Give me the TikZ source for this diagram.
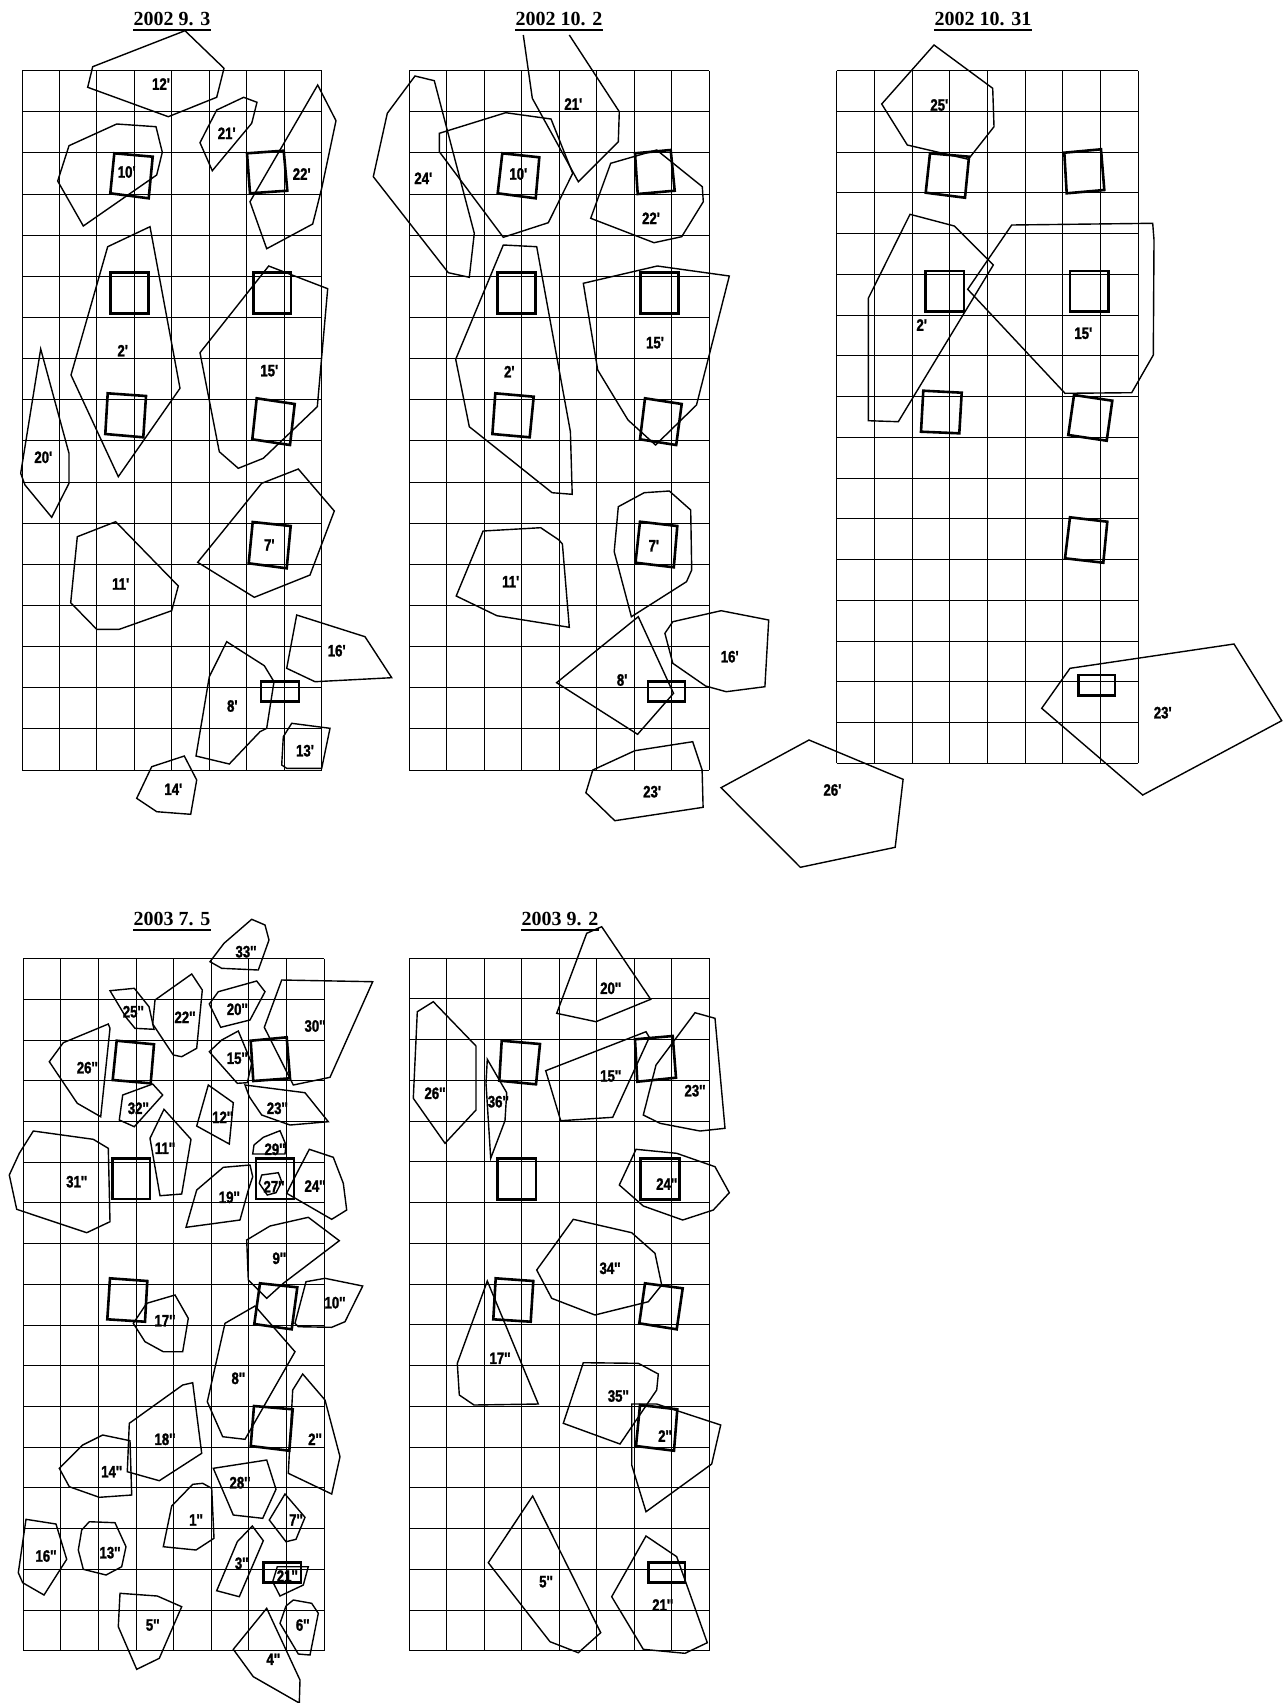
\documentclass[tikz,border=0pt]{standalone}
\usepackage{fontspec}
\setmainfont{Liberation Serif}
\newfontfamily\lblfont[FakeStretch=0.8, BoldFont={Liberation Sans Bold}, BoldFeatures={FakeBold=1.5}]{Liberation Sans}
\tikzset{
  gridline/.style={line width=1.0pt, black},
  pile/.style={line width=2.6pt, black, line join=miter},
  poly/.style={line width=1.4pt, black, line join=miter},
  lbl/.style={font=\lblfont\bfseries\fontsize{16.5}{16.5}\selectfont, inner sep=0pt},
  ttl/.style={font=\bfseries\fontsize{20}{20}\selectfont, inner sep=0pt, anchor=base},
  uline/.style={line width=1.6pt, black}
}
\newcommand\sitegrid[4]{%
  \foreach \i in {0,...,8} \draw[gridline] ({#1+\i*#3},{#2}) -- ({#1+\i*#3},{#2+17*#4});
  \foreach \j in {0,...,17} \draw[gridline] ({#1},{#2+\j*#4}) -- ({#1+8*#3},{#2+\j*#4});
}
\begin{document}
\begin{tikzpicture}[x=1pt,y=-1pt]
\useasboundingbox[fill=white] (0,0) rectangle (1284,1703);

% ---------------- titles ----------------
\node[ttl] (t1) at (172,25) {2002 9. 3};
\node[ttl] (t2) at (559,25) {2002 10. 2};
\node[ttl] (t3) at (983,25) {2002 10. 31};
\node[ttl] (t4) at (172,925) {2003 7. 5};
\node[ttl] (t5) at (560,925) {2003 9. 2};
\foreach \t in {t1,t2,t3,t4,t5}
  \draw[uline] ([yshift=-5pt]\t.base west) -- ([yshift=-5pt]\t.base east);

% ---------------- grids ----------------
\sitegrid{22}{70.7}{37.46}{41.14}
\sitegrid{409}{70.7}{37.5}{41.14}
\sitegrid{836.7}{70.7}{37.7}{40.74}
\sitegrid{23.3}{958.7}{37.59}{40.71}
\sitegrid{409}{958}{37.54}{40.75}

% ================= Panel 1 : 2002 9.3 =================
\draw[pile] (114.3,153.3)--(152.7,156.7)--(148.7,198.3)--(110.3,193.3)--cycle;
\draw[pile] (247,153.3)--(283.7,150.7)--(287.3,190.7)--(250,193.3)--cycle;
\draw[pile] (110.3,272.7) rectangle (148.7,313.3);
\draw[pile] (253.3,272.7) rectangle (291,313.3);
\draw[pile] (107.7,393.3)--(146,396)--(143.3,437.3)--(105.3,434)--cycle;
\draw[pile] (256.7,398.3)--(294.7,404)--(290,445)--(252.3,439.3)--cycle;
\draw[pile] (252.7,522)--(290.7,526)--(286.7,568.3)--(248.7,563.3)--cycle;
\draw[pile] (261,681.7) rectangle (299,701.7);

\draw[poly] (185,30.7)--(224,68.3)--(216.7,97.3)--(168.3,116.7)--(87.7,87.3)--(92.7,66.7)--cycle;
\draw[poly] (243.7,97.3)--(257,102.3)--(251.7,123.3)--(212.3,170.7)--(200,142.7)--(216.7,110)--cycle;
\draw[poly] (116.7,124)--(156,126.7)--(162.3,152.3)--(156.7,175)--(83.3,226)--(57.7,181)--(69,145.7)--cycle;
\draw[poly] (317.7,85)--(336,120.7)--(321.7,188.3)--(312.7,224)--(266.7,248.7)--(250,201.7)--cycle;
\draw[poly] (150,226.7)--(180,388.3)--(118.3,476.7)--(71,375)--(107.7,246.7)--cycle;
\draw[poly] (268.7,266)--(327.7,288.7)--(317.3,406.7)--(263.3,458.3)--(238.3,468.3)--(219.3,451.7)--(200,352.7)--cycle;
\draw[poly] (40.7,349)--(69,453.3)--(69,483.3)--(51.7,517.3)--(25,485)--(20.7,473.3)--cycle;
\draw[poly] (298.3,469)--(334.3,511)--(310,575)--(254.3,597.3)--(197.7,562.3)--(261.7,483.3)--cycle;
\draw[poly] (115.7,521.7)--(178.3,586)--(171.7,610.7)--(119.3,629.3)--(96.7,629.3)--(70.7,602.7)--(77.3,536.7)--cycle;
\draw[poly] (296.7,615)--(365,636.7)--(391.7,677.7)--(315,681.7)--(286.7,668.3)--cycle;
\draw[poly] (226.7,641.7)--(264.3,665.7)--(274,681.7)--(266.7,728.3)--(260,731.7)--(229.3,764)--(196,756)--(209.3,676.7)--cycle;
\draw[poly] (291.7,723.3)--(330,728.3)--(321.7,768.3)--(286.7,768.3)--(281.7,765)--(283.3,736.7)--cycle;
\draw[poly] (184.3,756)--(196.7,780)--(190.7,814.3)--(156.7,811.7)--(136.7,798.3)--(151.7,766.7)--cycle;

\node[lbl] (a12) at (161,84) {12'};
\node[lbl] (a21) at (226.7,133.3) {21'};
\node[lbl] (a10) at (126.7,172) {10'};
\node[lbl] (a22) at (301.7,174) {22'};
\node[lbl] (a2) at (122.7,350.7) {2'};
\node[lbl] (a15) at (269.3,370.7) {15'};
\node[lbl] (a20) at (43.3,457.3) {20'};
\node[lbl] (a7) at (269.3,545) {7'};
\node[lbl] (a11) at (120.7,584) {11'};
\node[lbl] (a16) at (336.7,650.7) {16'};
\node[lbl] (a8) at (232.3,706) {8'};
\node[lbl] (a13) at (305,750.7) {13'};
\node[lbl] (a14) at (173.3,789.3) {14'};

% ================= Panel 2 : 2002 10.2 =================
\draw[pile] (502.3,153.3)--(539.3,157.3)--(535.7,198.3)--(497.7,193.3)--cycle;
\draw[pile] (635,153.3)--(670.7,150)--(674.7,190.7)--(637.7,194)--cycle;
\draw[pile] (497.7,272.7) rectangle (535.3,313.3);
\draw[pile] (640.7,272.7) rectangle (678.7,313.3);
\draw[pile] (495.3,393.3)--(533.7,396.7)--(529.7,437.3)--(492.4,434)--cycle;
\draw[pile] (645,398.3)--(681.7,404)--(676.2,445)--(640,439.3)--cycle;
\draw[pile] (640,521.7)--(677.3,526)--(673.8,567.3)--(635.5,562.7)--cycle;
\draw[pile] (648,681.7) rectangle (684.8,701.7);

\draw[poly] (523.3,35)--(532.3,98.3)--(578.3,181.7)--(618.3,141.7)--(619.3,111.7)--(569.3,35);
\draw[poly] (415,76)--(434.3,80.7)--(474.3,233.3)--(469.3,277.3)--(448.3,272.7)--(373.3,176.7)--(387.3,113.3)--cycle;
\draw[poly] (505.7,112.7)--(551,119)--(572.7,173.3)--(548.3,222.7)--(503.3,237.3)--(439.3,151.7)--(439.3,133.3)--cycle;
\draw[poly] (656.7,150)--(702.3,186.7)--(703.3,201.7)--(681.7,236.7)--(654,242.7)--(590.7,218.3)--(610.7,163.3)--cycle;
\draw[poly] (503.3,245)--(536.7,246.7)--(570.4,431.7)--(572.2,494.3)--(552.1,492.7)--(469.3,426.7)--(455.7,359.3)--cycle;
\draw[poly] (657.3,266)--(729.3,276)--(696.5,405)--(655.5,445)--(628,420)--(597.7,370)--(583.3,283.3)--cycle;
\draw[poly] (644.2,492.7)--(669.3,491)--(690.7,510)--(691.7,570)--(686.5,581.7)--(631.4,616.7)--(614.2,551.7)--(618.3,506.7)--cycle;
\draw[poly] (483.1,531)--(540.7,527.7)--(559,540)--(562.4,544)--(569.3,627.3)--(496.9,615.7)--(456.2,596)--cycle;
\draw[poly] (638.3,616.7)--(673.5,693.3)--(637.6,734.3)--(556.6,682.7)--cycle;
\draw[poly] (672.8,621.7)--(721.1,610.7)--(768.7,620)--(764.9,686.7)--(726.2,691.7)--(705.6,686)--(672.8,663.3)--(664.9,633.3)--cycle;
\draw[poly] (634.8,750.7)--(692.7,741.7)--(702.1,770)--(703.1,807.3)--(614.8,820.7)--(585.9,792.7)--(592.8,770)--cycle;
\draw[poly] (809,740)--(903.1,779.3)--(895.2,847.3)--(800.3,867.3)--(721,787.7)--cycle;

\node[lbl] (b21) at (573.3,104) {21'};
\node[lbl] (b24) at (423.3,178.3) {24'};
\node[lbl] (b10) at (518.3,174) {10'};
\node[lbl] (b22) at (651,218.3) {22'};
\node[lbl] (b2) at (509.3,371.7) {2'};
\node[lbl] (b15) at (655,342.7) {15'};
\node[lbl] (b7) at (653.8,545.7) {7'};
\node[lbl] (b11) at (510.7,581.7) {11'};
\node[lbl] (b8) at (622.1,680) {8'};
\node[lbl] (b16) at (729.7,656.7) {16'};
\node[lbl] (b23) at (652.1,791.7) {23'};
\node[lbl] (b26) at (832.4,790) {26'};

% ================= Panel 3 : 2002 10.31 =================
\draw[pile] (930,153.3)--(969,156.7)--(965,197.7)--(925.7,192.7)--cycle;
\draw[pile] (1064.3,152.7)--(1101,149.3)--(1104.3,190)--(1066.7,193.3)--cycle;
\draw[pile] (925.7,271) rectangle (964,311.7);
\draw[pile] (1070,271) rectangle (1108.3,311.7);
\draw[pile] (923.3,390.7)--(961.7,392.7)--(959.3,433.3)--(921,431.7)--cycle;
\draw[pile] (1074,395)--(1112.3,400.7)--(1106.7,440.7)--(1068.3,435)--cycle;
\draw[pile] (1070,517.3)--(1107.3,521.7)--(1103.3,562.7)--(1065,558.3)--cycle;
\draw[pile] (1078.3,675) rectangle (1115,695.7);

\draw[poly] (934,45)--(992.7,88.3)--(994,126.7)--(968.3,159.3)--(907.3,145)--(881.7,104)--cycle;
\draw[poly] (910,214.3)--(954.3,226)--(993.3,265)--(898.3,421.7)--(868.3,420.7)--(868.3,298.3)--cycle;
\draw[poly] (1011.7,225)--(1152.7,223.3)--(1154,240)--(1153.3,355)--(1131.7,392.7)--(1065,393.3)--(967.7,289.3)--cycle;
\draw[poly] (1070,668.3)--(1234,644)--(1281.7,720.7)--(1142.7,795)--(1041.7,708.3)--cycle;

\node[lbl] (c25) at (939.3,105) {25'};
\node[lbl] (c2) at (921.7,325) {2'};
\node[lbl] (c15) at (1083.3,333.3) {15'};
\node[lbl] (c23) at (1162.7,712.7) {23'};

% ================= Panel 4 : 2003 7.5 =================
\draw[pile] (116.7,1040.7)--(154,1044.3)--(150.7,1083.3)--(112.7,1080)--cycle;
\draw[pile] (250.7,1040.7)--(286.7,1037.3)--(290,1078.3)--(253.3,1081)--cycle;
\draw[pile] (112.3,1158.7) rectangle (150,1199);
\draw[pile] (256,1158.7) rectangle (294,1199);
\draw[pile] (110,1278.3)--(147.3,1281)--(145,1321.7)--(107.3,1319.3)--cycle;
\draw[pile] (260,1283.3)--(297.3,1287.3)--(291.7,1329.3)--(254.3,1324)--cycle;
\draw[pile] (254,1406)--(292.7,1409.3)--(289.3,1450.7)--(250.7,1446)--cycle;
\draw[pile] (263.3,1562.7) rectangle (301,1582.7);

\draw[poly] (251.7,919.3)--(265,925)--(269,940)--(258.3,970)--(221.7,968.3)--(210,961.7)--(224,943.3)--cycle;
\draw[poly] (110,990.7)--(134.3,988.3)--(149,1006.7)--(154,1029.3)--(135,1028.3)--(126,1017.3)--cycle;
\draw[poly] (191.7,974)--(202.3,990)--(196.7,1048.3)--(181.7,1056.7)--(173.3,1055)--(152.7,1024)--(155,1000)--cycle;
\draw[poly] (256.7,981)--(265,991.7)--(250,1020)--(220.7,1027.3)--(209.3,1004)--(218.3,991.7)--cycle;
\draw[poly] (281.7,980)--(372.7,981.7)--(330,1077.3)--(293.3,1085)--(264.3,1027.3)--cycle;
\draw[poly] (108.3,1024)--(110,1028.3)--(100.7,1116.7)--(77.3,1103.3)--(49.3,1061.7)--(63.3,1042.7)--cycle;
\draw[poly] (238.3,1031)--(251.7,1063.3)--(247.3,1082.7)--(237.3,1083.3)--(209.3,1051.7)--(221.7,1040)--cycle;
\draw[poly] (152.7,1084)--(162.7,1095)--(134.3,1126.7)--(119.3,1120)--(122.7,1095)--cycle;
\draw[poly] (208.3,1085)--(233.3,1102.7)--(229.3,1144)--(196.7,1126)--cycle;
\draw[poly] (245,1085)--(305,1092.7)--(328.3,1121.7)--(290,1125)--(261.7,1115)--(249.3,1096.7)--cycle;
\draw[poly] (164,1109.3)--(191,1139.3)--(181.7,1194)--(160,1195.7)--(150,1138.3)--cycle;
\draw[poly] (254,1145)--(263.3,1137.3)--(280,1130.7)--(286,1145)--(285,1154)--(252.7,1154)--cycle;
\draw[poly] (33.3,1131)--(93.3,1139.3)--(108.3,1148.3)--(110,1221.7)--(86.7,1232.7)--(16.7,1209.3)--(9.3,1175)--(19.3,1153.3)--cycle;
\draw[poly] (223.3,1167.3)--(250,1165)--(252.7,1176.7)--(248.3,1190)--(240,1220)--(186,1227.3)--(196.7,1190)--cycle;
\draw[poly] (261.7,1175)--(278.3,1172.7)--(281.7,1181.7)--(276,1192.7)--(267.3,1195)--(259.3,1183.3)--cycle;
\draw[poly] (309.3,1149.3)--(333.3,1157.3)--(343.3,1183.3)--(346.7,1210)--(331.7,1219.3)--(286.7,1193.3)--(295,1176.7)--cycle;
\draw[poly] (308.3,1217.3)--(339.3,1240.7)--(283.3,1283.3)--(266.7,1298.3)--(248.3,1280)--(246.7,1240)--(270,1226)--cycle;
\draw[poly] (325,1278.3)--(362.7,1286)--(345,1321.7)--(331.7,1327.3)--(298.3,1326.7)--(295,1323.3)--(306,1281.7)--cycle;
\draw[poly] (175,1295)--(188.3,1318.3)--(182.7,1351.7)--(163.3,1351.7)--(145,1341.7)--(133.3,1323.3)--(146.7,1303.3)--cycle;
\draw[poly] (255,1306)--(295,1351.7)--(245,1439.3)--(222.7,1436.7)--(207.3,1401.7)--(225,1323.3)--cycle;
\draw[poly] (302.7,1374)--(325,1400)--(340,1456.7)--(331.7,1494)--(288.3,1473.3)--(292.7,1390)--cycle;
\draw[poly] (182.7,1385)--(192.7,1382.7)--(201.7,1453.3)--(159.3,1480.7)--(127.3,1471.7)--(129.3,1423.3)--cycle;
\draw[poly] (102.7,1435)--(130,1440.7)--(131.7,1495)--(99.3,1497.3)--(69.3,1486.7)--(59.3,1468.3)--(82.7,1445)--cycle;
\draw[poly] (213.3,1468.3)--(266.7,1460)--(276,1489.3)--(262.7,1518.3)--(233.3,1515)--cycle;
\draw[poly] (202.7,1483.3)--(211.7,1488.3)--(214,1538.3)--(196,1550)--(163.3,1546.7)--(171.7,1506)--(192.7,1484.3)--cycle;
\draw[poly] (285,1494)--(305,1517.3)--(296,1539.3)--(286,1541.7)--(269.3,1520)--cycle;
\draw[poly] (26,1519.3)--(56,1524)--(66.7,1559.3)--(44,1595)--(22.7,1582.7)--(18.3,1572.7)--cycle;
\draw[poly] (89.3,1521.7)--(115,1522.7)--(126,1546.7)--(121.7,1566.7)--(106,1575)--(83.3,1569.3)--(78.3,1550)--(81.7,1530)--cycle;
\draw[poly] (252.3,1526)--(263.3,1540.7)--(239.3,1596.7)--(216.7,1590.7)--(237.3,1541.7)--cycle;
\draw[poly] (308.3,1566.7)--(303.3,1585)--(280,1596)--(272.7,1581.7)--(277.3,1566.7)--cycle;
\draw[poly] (293.3,1600)--(311.7,1603.3)--(318.3,1613.3)--(310,1655)--(298.3,1654)--(280,1623.3)--(286,1606)--cycle;
\draw[poly] (266.7,1608.3)--(300,1680)--(299.3,1703)--(253.3,1676.7)--(233.3,1649.3)--cycle;
\draw[poly] (120,1593.3)--(157.3,1596)--(181.7,1606.7)--(159.3,1658.3)--(136.7,1669.3)--(118.3,1626.7)--cycle;

\node[lbl] (d33) at (246,951.7) {33''};
\node[lbl] (d25) at (133.3,1011.7) {25''};
\node[lbl] (d22) at (185,1017.3) {22''};
\node[lbl] (d20) at (237.3,1009.3) {20''};
\node[lbl] (d30) at (315,1026) {30''};
\node[lbl] (d26) at (87.3,1067.7) {26''};
\node[lbl] (d15) at (237.3,1058.3) {15''};
\node[lbl] (d32) at (138.3,1108.3) {32''};
\node[lbl] (d12) at (222.7,1117.3) {12''};
\node[lbl] (d23) at (277.3,1108.3) {23''};
\node[lbl] (d11) at (165,1148.3) {11''};
\node[lbl] (d29) at (275,1149.3) {29''};
\node[lbl] (d31) at (76.7,1181.7) {31''};
\node[lbl] (d19) at (229.3,1197.3) {19''};
\node[lbl] (d27) at (274,1186.7) {27''};
\node[lbl] (d24) at (315,1186) {24''};
\node[lbl] (d9) at (279.3,1258.3) {9''};
\node[lbl] (d10) at (335,1302.7) {10''};
\node[lbl] (d17) at (165,1320.7) {17''};
\node[lbl] (d8) at (238.3,1378.3) {8''};
\node[lbl] (d2) at (315,1439.3) {2''};
\node[lbl] (d18) at (165,1439.3) {18''};
\node[lbl] (d14) at (111.7,1471.7) {14''};
\node[lbl] (d28) at (240,1482.7) {28''};
\node[lbl] (d1) at (196,1520) {1''};
\node[lbl] (d7) at (296,1520) {7''};
\node[lbl] (d16) at (46,1556) {16''};
\node[lbl] (d13) at (110,1552.7) {13''};
\node[lbl] (d3) at (241.7,1563.3) {3''};
\node[lbl] (d21) at (287.3,1576) {21''};
\node[lbl] (d6) at (302.7,1625) {6''};
\node[lbl] (d4) at (273.3,1659.3) {4''};
\node[lbl] (d5) at (152.7,1625) {5''};

% ================= Panel 5 : 2003 9.2 =================
\draw[pile] (501.7,1040.7)--(540,1044)--(536,1084.3)--(499.3,1080.7)--cycle;
\draw[pile] (635,1039.3)--(672.7,1036)--(676,1077.7)--(637.3,1081.7)--cycle;
\draw[pile] (497.3,1158.3) rectangle (536,1199.3);
\draw[pile] (640.7,1158.3) rectangle (679.3,1199.3);
\draw[pile] (495.7,1278.3)--(533.3,1281)--(530.7,1321.7)--(493.3,1319.3)--cycle;
\draw[pile] (645,1283.3)--(682.7,1288.3)--(676.7,1329.3)--(639.3,1323.3)--cycle;
\draw[pile] (640,1405)--(677.3,1409.3)--(674,1450.7)--(636,1446)--cycle;
\draw[pile] (648.3,1562.7) rectangle (685,1582.7);

\draw[poly] (601.7,926.7)--(650.7,999.3)--(596,1021.7)--(556.7,1013.3)--(586.7,933.3)--cycle;
\draw[poly] (433.3,1001.7)--(476,1046)--(476,1110)--(445,1143.3)--(413.3,1098.3)--(417.3,1011.7)--cycle;
\draw[poly] (487.3,1059.3)--(506.7,1092.7)--(505,1120.7)--(490.7,1158.3)--(486,1083.3)--cycle;
\draw[poly] (646,1031.7)--(649.3,1037.3)--(612.7,1117.3)--(560.7,1120.7)--(545.7,1070.7)--cycle;
\draw[poly] (695,1012.7)--(715,1018.3)--(725,1128.3)--(700,1131)--(660,1123.3)--(643.3,1115)--(656,1065)--cycle;
\draw[poly] (636,1149.3)--(676.7,1153.3)--(715,1166.7)--(729.3,1192.7)--(713.3,1210)--(682.7,1220)--(643.3,1206)--(619.3,1185)--cycle;
\draw[poly] (573.3,1219.3)--(631.7,1232.7)--(655,1253.3)--(661.7,1285)--(648.3,1301.7)--(595,1315)--(551.7,1298.3)--(536.7,1270)--cycle;
\draw[poly] (487.3,1281)--(538.3,1404)--(474,1405)--(459.3,1395)--(457.3,1363.3)--cycle;
\draw[poly] (583.3,1362.7)--(638.3,1363.3)--(658.3,1374)--(656.7,1390)--(620,1444)--(563.3,1423.3)--cycle;
\draw[poly] (631.7,1404)--(656.7,1404)--(720.7,1425)--(711.7,1464)--(646,1511.7)--(631.7,1465)--cycle;
\draw[poly] (532.7,1496)--(600.7,1632.7)--(578.3,1652.7)--(550,1641.7)--(488.3,1562.7)--cycle;
\draw[poly] (646,1536)--(676.7,1556.7)--(707.3,1642.7)--(685,1653.3)--(643.3,1649.3)--(611.7,1596.7)--cycle;

\node[lbl] (e20) at (610.7,988.3) {20''};
\node[lbl] (e26) at (435,1093.3) {26''};
\node[lbl] (e36) at (498.3,1101.7) {36''};
\node[lbl] (e15) at (610.7,1076) {15''};
\node[lbl] (e23) at (695,1090.7) {23''};
\node[lbl] (e24) at (666.7,1184) {24''};
\node[lbl] (e34) at (610,1268.3) {34''};
\node[lbl] (e17) at (500,1358.3) {17''};
\node[lbl] (e35) at (618.3,1396) {35''};
\node[lbl] (e2) at (665,1436) {2''};
\node[lbl] (e5) at (546,1581.7) {5''};
\node[lbl] (e21) at (662.7,1605) {21''};
\end{tikzpicture}
\end{document}
